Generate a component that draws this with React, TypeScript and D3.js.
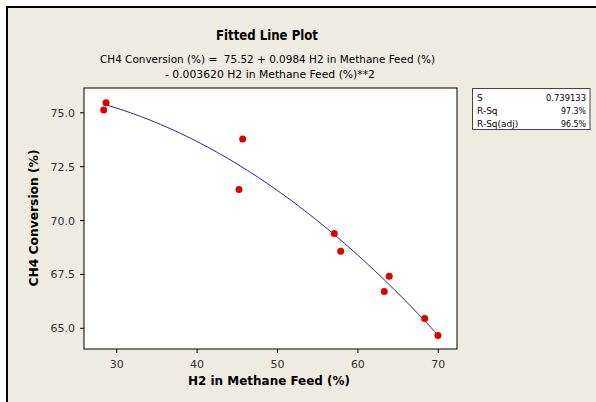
import React from "react";
import * as d3 from "d3";

const xValues = [28.38, 28.67, 45.67, 45.21, 57.06, 57.86, 63.9, 63.28, 68.31, 69.96];
const yValues = [75.13, 75.47, 73.78, 71.44, 69.4, 68.58, 67.42, 66.71, 65.45, 64.67];
const coef = [75.52, 0.0984, -0.00362];
const xTicks = [30, 40, 50, 60, 70];
const yTicks = [65.0, 67.5, 70.0, 72.5, 75.0];
const statLabels = ["S", "R-Sq", "R-Sq(adj)"];
const statValues = ["0.739133", "97.3%", "96.5%"];
const titleText = "Fitted Line Plot";
const subLine1 = "CH4 Conversion (%) =  75.52 + 0.0984 H2 in Methane Feed (%)";
const subLine2 = "- 0.003620 H2 in Methane Feed (%)**2";
const xLabel = "H2 in Methane Feed (%)";
const yLabel = "CH4 Conversion (%)";

const W = 596, H = 402;
const PL = 84, PR = 457, PT = 88, PB = 349;
const FONT = "'DejaVu Sans', Verdana, sans-serif";

export default function App() {
  const x = d3.scaleLinear().domain([25.93, 72.33]).range([PL, PR]);
  const y = d3.scaleLinear().domain([64.04, 76.15]).range([PB, PT]);
  const f = (v: number) => coef[0] + coef[1] * v + coef[2] * v * v;
  const xmin = d3.min(xValues)!, xmax = d3.max(xValues)!;
  const curvePts = d3.range(0, 101).map((i) => {
    const v = xmin + ((xmax - xmin) * i) / 100;
    return [v, f(v)] as [number, number];
  });
  const line = d3.line<[number, number]>().x((d) => x(d[0])).y((d) => y(d[1]));

  return (
    <div style={{ position: "fixed", left: 0, top: 0, width: W, height: H }}>
      <svg width={W} height={H} style={{ display: "block" }}>
        <rect x={0} y={0} width={W} height={H} fill="#ffffff" />
        <rect x={6} y={6} width={W - 6} height={H - 6} fill="#EEEBE1" />
        <rect x={6} y={6} width={W - 6} height={2} fill="#000" />
        <rect x={6} y={6} width={2} height={H - 6} fill="#000" />

        <text x={267} y={40} textAnchor="middle" fontFamily={FONT} fontSize={14} fontWeight="bold" fill="#000" textLength={102} lengthAdjust="spacingAndGlyphs">{titleText}</text>
        <text x={267.5} y={63} textAnchor="middle" fontFamily={FONT} fontSize={11} fill="#000" textLength={335} lengthAdjust="spacingAndGlyphs" style={{ whiteSpace: "pre" }}>{subLine1}</text>
        <text x={270} y={77.5} textAnchor="middle" fontFamily={FONT} fontSize={11} fill="#000" textLength={210} lengthAdjust="spacingAndGlyphs">{subLine2}</text>

        <rect x={PL} y={PT} width={PR - PL} height={PB - PT} fill="#fff" stroke="#000" strokeWidth={1} />

        {xTicks.map((t) => (
          <g key={"x" + t}>
            <line x1={x(t)} x2={x(t)} y1={PB} y2={PB + 4} stroke="#000" />
            <text x={x(t)} y={368} textAnchor="middle" fontFamily={FONT} fontSize={11} fill="#333">{t}</text>
          </g>
        ))}
        {yTicks.map((t) => (
          <g key={"y" + t}>
            <line x1={PL - 4} x2={PL} y1={y(t)} y2={y(t)} stroke="#000" />
            <text x={75} y={y(t) + 4} textAnchor="end" fontFamily={FONT} fontSize={11} fill="#333">{t.toFixed(1)}</text>
          </g>
        ))}

        <text x={269} y={385} textAnchor="middle" fontFamily={FONT} fontSize={12} fontWeight="bold" fill="#000" textLength={162} lengthAdjust="spacingAndGlyphs">{xLabel}</text>
        <text transform={`translate(38,218) rotate(-90)`} textAnchor="middle" fontFamily={FONT} fontSize={12} fontWeight="bold" fill="#000" textLength={137} lengthAdjust="spacingAndGlyphs">{yLabel}</text>

        <path d={line(curvePts) || ""} fill="none" stroke="#22228a" strokeWidth={1} />
        {xValues.map((v, i) => (
          <circle key={i} cx={x(v)} cy={y(yValues[i])} r={3.5} fill="#e00000" />
        ))}

        <rect x={472.5} y={88.5} width={117.5} height={41} fill="#fff" stroke="#444" strokeWidth={1} />
        {statLabels.map((s, i) => (
          <g key={s}>
            <text x={477} y={101 + i * 12.8} fontFamily={FONT} fontSize={9} fill="#000">{s}</text>
            <text x={586} y={101 + i * 12.8} textAnchor="end" fontFamily={FONT} fontSize={9} fill="#000" textLength={statValues[i].length * 5} lengthAdjust="spacingAndGlyphs">{statValues[i]}</text>
          </g>
        ))}
      </svg>
    </div>
  );
}
